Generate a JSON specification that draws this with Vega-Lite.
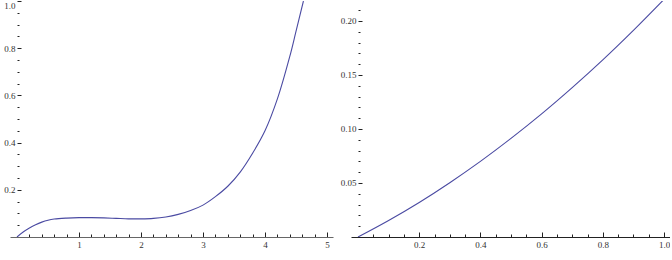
{
  "$schema": "https://vega.github.io/schema/vega-lite/v6.json",
  "padding": {"left": 3, "top": 0, "right": 0, "bottom": 0},
  "background": "white",
  "spacing": 7,
  "config": {
    "font": "Liberation Serif, Times New Roman, serif",
    "view": {"stroke": null},
    "axis": {
      "labelFont": "Liberation Serif, Times New Roman, serif",
      "labelFontSize": 9,
      "labelColor": "#333333",
      "tickColor": "#222222",
      "tickWidth": 1,
      "grid": false,
      "title": null,
      "labelOverlap": false
    }
  },
  "datasets": {
    "left": [
      {"x": 0, "y": 0},
      {"x": 0.1, "y": 0.021},
      {"x": 0.2, "y": 0.038},
      {"x": 0.3, "y": 0.052},
      {"x": 0.4, "y": 0.063},
      {"x": 0.5, "y": 0.071},
      {"x": 0.6, "y": 0.076},
      {"x": 0.8, "y": 0.08},
      {"x": 1.0, "y": 0.082},
      {"x": 1.2, "y": 0.082},
      {"x": 1.4, "y": 0.081},
      {"x": 1.6, "y": 0.079},
      {"x": 1.8, "y": 0.077},
      {"x": 2.0, "y": 0.077},
      {"x": 2.2, "y": 0.079},
      {"x": 2.4, "y": 0.085},
      {"x": 2.6, "y": 0.096},
      {"x": 2.8, "y": 0.112},
      {"x": 3.0, "y": 0.135},
      {"x": 3.2, "y": 0.171},
      {"x": 3.4, "y": 0.215},
      {"x": 3.6, "y": 0.275},
      {"x": 3.8, "y": 0.355},
      {"x": 4.0, "y": 0.45},
      {"x": 4.2, "y": 0.585},
      {"x": 4.4, "y": 0.765},
      {"x": 4.5, "y": 0.871},
      {"x": 4.62, "y": 1.0}
    ],
    "right": [
      {"x": 0, "y": 0},
      {"x": 0.1, "y": 0.0153},
      {"x": 0.2, "y": 0.032},
      {"x": 0.3, "y": 0.0503},
      {"x": 0.4, "y": 0.07},
      {"x": 0.5, "y": 0.0913},
      {"x": 0.6, "y": 0.114},
      {"x": 0.7, "y": 0.1383},
      {"x": 0.8, "y": 0.164},
      {"x": 0.9, "y": 0.1913},
      {"x": 1.0, "y": 0.22}
    ]
  },
  "hconcat": [
    {
      "width": 323,
      "height": 236,
      "data": {"name": "left"},
      "mark": {"type": "line", "color": "#4a4aa2", "strokeWidth": 1.1, "interpolate": "catmull-rom", "clip": true},
      "encoding": {
        "x": {
          "field": "x", "type": "quantitative",
          "scale": {"domain": [-0.113, 5.097], "nice": false, "zero": false},
          "axis": {
            "values": [0.2,0.4,0.6,0.8,1,1.2,1.4,1.6,1.8,2,2.2,2.4,2.6,2.8,3,3.2,3.4,3.6,3.8,4,4.2,4.4,4.6,4.8,5],
            "labelExpr": "abs(datum.value - round(datum.value)) < 0.001 ? format(datum.value, 'd') : ''",
            "tickSize": {"condition": {"test": "abs(datum.value - round(datum.value)) < 0.001", "value": -5}, "value": -3},
            "labelPadding": 8,
            "domainColor": "#666666",
            "domainWidth": 1.2
          }
        },
        "y": {
          "field": "y", "type": "quantitative",
          "scale": {"domain": [0, 1.0], "nice": false},
          "axis": {
            "values": [0.05,0.1,0.15,0.2,0.25,0.3,0.35,0.4,0.45,0.5,0.55,0.6,0.65,0.7,0.75,0.8,0.85,0.9,0.95,1.0],
            "labelExpr": "abs(datum.value*5 - round(datum.value*5)) < 0.001 ? format(datum.value, '.1f') : ''",
            "labelFlush": true,
            "tickSize": {"condition": {"test": "abs(datum.value*5 - round(datum.value*5)) < 0.001", "value": -4}, "value": -2},
            "offset": -7,
            "labelPadding": 6,
            "domain": false
          }
        }
      }
    },
    {
      "width": 319,
      "height": 236,
      "data": {"name": "right"},
      "mark": {"type": "line", "color": "#4a4aa2", "strokeWidth": 1.1, "interpolate": "catmull-rom", "clip": true},
      "encoding": {
        "x": {
          "field": "x", "type": "quantitative",
          "scale": {"domain": [-0.0229, 1.0196], "nice": false, "zero": false},
          "axis": {
            "values": [0.05,0.1,0.15,0.2,0.25,0.3,0.35,0.4,0.45,0.5,0.55,0.6,0.65,0.7,0.75,0.8,0.85,0.9,0.95,1.0],
            "labelExpr": "abs(datum.value*5 - round(datum.value*5)) < 0.001 ? format(datum.value, '.1f') : ''",
            "tickSize": {"condition": {"test": "abs(datum.value*5 - round(datum.value*5)) < 0.001", "value": -5}, "value": -3},
            "labelPadding": 8,
            "domainColor": "#222222",
            "domainWidth": 1.2
          }
        },
        "y": {
          "field": "y", "type": "quantitative",
          "scale": {"domain": [0, 0.2185], "nice": false},
          "axis": {
            "values": [0.01,0.02,0.03,0.04,0.05,0.06,0.07,0.08,0.09,0.1,0.11,0.12,0.13,0.14,0.15,0.16,0.17,0.18,0.19,0.2,0.21],
            "labelExpr": "abs(datum.value*20 - round(datum.value*20)) < 0.001 ? format(datum.value, '.2f') : ''",
            "tickSize": {"condition": {"test": "abs(datum.value*20 - round(datum.value*20)) < 0.001", "value": -4}, "value": -2},
            "offset": -7,
            "labelPadding": 6,
            "domain": false
          }
        }
      }
    }
  ]
}
